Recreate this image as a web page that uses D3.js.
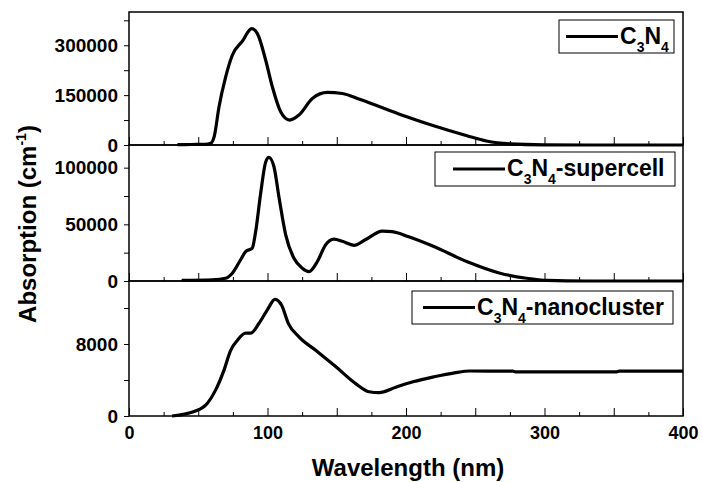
<!DOCTYPE html>
<html>
<head>
<meta charset="utf-8">
<script src="https://cdn.jsdelivr.net/npm/d3@7"></script>
<style>
  body { margin: 0; background: #fff; }
  svg { font-family: "Liberation Sans", Arial, sans-serif; font-weight: bold; }
</style>
</head>
<body>
<svg id="chart" width="702" height="482"></svg>
<script>
// Data

const wlBulk = [35, 45, 55, 59, 61.5, 65, 69.8, 74.6, 81.8, 88.6, 92.7, 98.7, 103.5, 109.5, 116, 122.7, 132.4, 143.2, 154, 166, 183, 200, 220, 244, 258, 275, 300, 330, 400];
const absBulk = [1000, 1500, 2000, 5000, 25000, 115000, 205000, 270000, 312000, 350000, 335000, 255000, 175000, 100000, 75000, 90000, 140000, 158000, 155000, 138000, 112000, 86000, 58000, 28000, 12000, 3500, 600, 0, 0];

const wlSuper = [38, 60, 69.8, 74.6, 80.6, 84.2, 89, 91.5, 95, 98.7, 101, 104.7, 108.3, 113.1, 119.1, 125.1, 130, 136, 142, 148, 154, 162.5, 170.9, 182.9, 190, 202, 219.7, 243.8, 267.9, 287, 302, 330, 400];
const absSuper = [500, 1000, 2400, 6900, 18750, 26000, 29000, 44000, 76800, 105000, 109000, 100600, 73800, 41000, 20000, 11300, 8300, 17200, 32000, 37000, 35000, 31500, 36600, 44000, 43500, 39000, 30600, 17200, 6900, 2400, 500, 0, 0];

const wlNano = [31, 48, 56.5, 62.6, 68.6, 73.4, 78.2, 84.2, 87.8, 93.9, 99.9, 105.4, 110.2, 115, 122.7, 134.8, 149.2, 163.7, 173.3, 180.5, 192.6, 205, 220, 235, 246, 277, 279, 352, 354, 400];
const absNano = [0, 555, 1400, 2900, 5100, 7300, 8400, 9200, 9200, 10300, 11800, 12960, 12300, 10300, 8800, 7300, 5500, 3600, 2700, 2600, 3200, 3800, 4350, 4800, 5000, 4980, 4900, 4900, 4980, 4980];

const xTickLabels = [0, 100, 200, 300, 400];

// Panel setup
const panels = [
    { name: "bulk", wl: wlBulk, abs: absBulk, max: 400000, step: 75000, labelStep: 150000,
      top: 12, bottom: 145, legend: "", legendBox: [559, 20, 115, 33], lineOff: 7 },
    { name: "super", wl: wlSuper, abs: absSuper, max: 120000, step: 25000, labelStep: 50000,
      top: 145, bottom: 281, legend: "-supercell", legendBox: [435, 152, 240, 34], lineOff: 18 },
    { name: "nano", wl: wlNano, abs: absNano, max: 15000, step: 4000, labelStep: 8000,
      top: 281, bottom: 416, legend: "-nanocluster", legendBox: [412, 291, 261, 33], lineOff: 11 }
];

const left = 129, right = 683;
const svg = d3.select("#chart");

const x = d3.scaleLinear().domain([0, 400]).range([left, right]);

panels.forEach(function(p, idx) {
    const y = d3.scaleLinear().domain([0, p.max]).range([p.bottom, p.top]);

    // frame
    svg.append("rect")
        .attr("x", left).attr("y", p.top)
        .attr("width", right - left).attr("height", p.bottom - p.top)
        .attr("fill", "none").attr("stroke", "#000").attr("stroke-width", 1.5);

    // y axis
    const yTicks = d3.range(0, p.max + 1, p.step);
    const yAxis = svg.append("g")
        .attr("transform", "translate(" + left + ",0)")
        .call(d3.axisLeft(y).tickValues(yTicks).tickSize(5).tickPadding(6)
            .tickFormat(function(d) { return d % p.labelStep === 0 ? d : ""; }));
    yAxis.select(".domain").remove();
    yAxis.selectAll("text").attr("font-size", 19).attr("font-weight", "bold")
        .attr("font-family", "Liberation Sans, Arial, sans-serif");
    yAxis.selectAll("line").attr("stroke-width", 1);

    // x axis: minor and major ticks pointing inward
    const xMinor = svg.append("g")
        .attr("transform", "translate(0," + p.bottom + ")")
        .call(d3.axisBottom(x).tickValues(d3.range(25, 400, 50)).tickSize(-4).tickFormat(""));
    xMinor.select(".domain").remove();

    const xMajor = svg.append("g")
        .attr("transform", "translate(0," + p.bottom + ")")
        .call(d3.axisBottom(x).tickValues(d3.range(0, 401, 50)).tickSize(-8).tickPadding(10)
            .tickFormat(function(d) {
                return (idx === panels.length - 1 && xTickLabels.indexOf(d) >= 0) ? d : "";
            }));
    xMajor.select(".domain").remove();
    xMajor.selectAll("text").attr("font-size", 18).attr("font-weight", "bold")
        .attr("font-family", "Liberation Sans, Arial, sans-serif");

    // curve
    const pts = p.wl.map(function(w, i) { return [w, p.abs[i]]; });
    const line = d3.line()
        .x(function(d) { return x(d[0]); })
        .y(function(d) { return y(d[1]); })
        .curve(d3.curveMonotoneX);
    svg.append("path")
        .datum(pts)
        .attr("d", line)
        .attr("fill", "none")
        .attr("stroke", "#000")
        .attr("stroke-width", 3.2)
        .attr("stroke-linejoin", "round");

    // legend
    const b = p.legendBox;
    svg.append("rect")
        .attr("x", b[0]).attr("y", b[1]).attr("width", b[2]).attr("height", b[3])
        .attr("fill", "#fff").attr("stroke", "#000").attr("stroke-width", 1);
    const midY = b[1] + b[3] / 2;
    svg.append("line")
        .attr("x1", b[0] + p.lineOff).attr("x2", b[0] + p.lineOff + 52)
        .attr("y1", midY).attr("y2", midY)
        .attr("stroke", "#000").attr("stroke-width", 3.2);
    const t = svg.append("text")
        .attr("x", b[0] + p.lineOff + 54).attr("y", midY + 7)
        .attr("font-size", 23);
    t.append("tspan").text("C");
    t.append("tspan").attr("font-size", 14).attr("dy", 8).text("3");
    t.append("tspan").attr("dy", -8).text("N");
    t.append("tspan").attr("font-size", 14).attr("dy", 8).text("4");
    if (p.legend) t.append("tspan").attr("dy", -8).text(p.legend);
});

// axis titles
svg.append("text")
    .attr("x", 408).attr("y", 476)
    .attr("text-anchor", "middle")
    .attr("font-size", 24)
    .text("Wavelength (nm)");

const yTitle = svg.append("text")
    .attr("transform", "translate(36,224) rotate(-90)")
    .attr("text-anchor", "middle")
    .attr("font-size", 24);
yTitle.append("tspan").text("Absorption (cm");
yTitle.append("tspan").attr("font-size", 14).attr("dy", -10).text("-1");
yTitle.append("tspan").attr("dy", 10).text(")");
</script>
</body>
</html>
